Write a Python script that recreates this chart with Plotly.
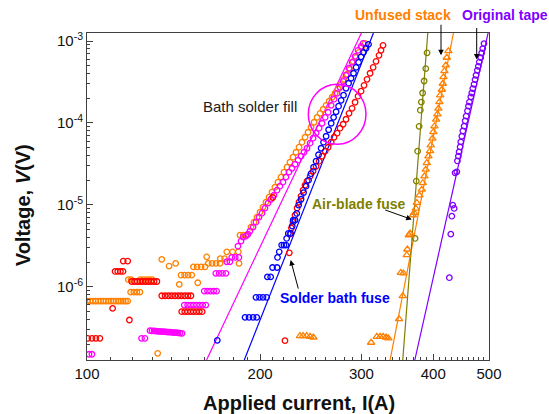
import plotly.graph_objects as go

# ---------------- data (current in A, voltage in V) ----------------
orange_I = [100.2, 101.3, 102.4, 103.5, 104.6, 105.7, 106.8, 107.9, 109.0, 110.1, 111.2, 112.3, 113.4, 114.5, 115.6, 116.7, 117.7,
            118.0, 119.3, 123.8, 125.3, 126.8, 128.3, 129.8,
            119.1, 120.6, 122.1, 123.6,
            132.7, 134.9, 138.9, 142.6, 144.7, 155.8, 161.5, 183.8,
            145.7, 147.8, 149.9, 152.1,
            153.1, 155.4, 157.9, 160.4,
            162.5, 165.0, 167.6, 170.3, 170.5, 173.5,
            175.0, 179.1, 183.3, 184.5, 187.0, 189.5,
            192.8, 195.1, 197.5, 199.9, 202.3, 204.7, 207.2, 209.7, 212.2, 214.8, 217.4, 220.0, 222.7, 225.4,
            228.1, 230.9, 233.7, 236.5, 239.4, 242.3, 245.2, 248.2, 251.2, 254.3, 257.4, 260.5, 263.6, 266.8,
            270.0, 273.3, 276.6, 279.9, 283.3, 286.7, 290.2, 293.7, 297.2, 300.8, 304.4]
orange_V = [6.69e-7] * 17 + [1.22e-6] * 7 + [8.6e-7] * 4 + \
           [1.54e-7, 2.16e-6, 1.79e-6, 1.93e-6, 1.07e-6, 1.12e-6, 2.32e-6, 1.93e-6] + \
           [1.39e-6] * 4 + [1.75e-6] * 4 + [1.93e-6] * 4 + [2.20e-6] * 2 + [2.67e-6] * 3 + [4.27e-6] * 3 + \
           [5.35e-6, 6.15e-6, 7.08e-6, 8.15e-6, 9.38e-6, 1.08e-5, 1.24e-5, 1.43e-5, 1.64e-5, 1.89e-5, 2.18e-5, 2.51e-5,
            2.88e-5, 3.32e-5, 3.82e-5, 4.39e-5, 5.06e-5, 5.82e-5, 6.69e-5, 7.70e-5, 8.86e-5, 1.02e-4, 1.17e-4, 1.31e-4,
            1.47e-4, 1.64e-4, 1.84e-4, 2.06e-4, 2.31e-4, 2.58e-4, 2.96e-4, 3.41e-4, 3.93e-4, 4.52e-4, 5.66e-4, 6.33e-4,
            7.28e-4, 8.38e-4, 9.38e-4]

magenta_I = [100.8, 102.0, 124.4, 126.1,
             128.7, 129.7, 130.8, 131.8, 132.9, 133.9, 135.0, 136.1, 137.2, 138.3, 139.4, 140.5, 141.7, 142.8, 143.9, 145.1, 146.3,
             147.6, 149.6, 151.4, 153.2, 155.1, 157.0, 158.9, 160.9,
             159.9, 162.0, 164.0, 166.1, 168.0,
             167.5, 169.7, 172.0, 174.4,
             175.0, 177.2, 178.5, 181.0, 183.7,
             183.0, 185.3, 186.8, 189.0, 190.5, 192.0, 194.4, 196.7, 199.1, 201.5, 203.9, 206.4, 208.8, 211.4, 214.0,
             216.5, 219.1, 221.8, 224.5, 227.2, 230.0, 232.8, 235.6, 238.4, 241.3, 244.3, 247.2, 250.2, 253.3, 256.3,
             259.5, 262.6, 265.8, 268.9, 272.2, 275.4, 278.8, 282.1, 285.5, 289.0, 292.5, 296.0, 299.6, 302.0]
magenta_V = [1.50e-7, 1.50e-7, 2.35e-7, 2.35e-7,
             2.91e-7, 2.90e-7, 2.89e-7, 2.87e-7, 2.86e-7, 2.85e-7, 2.84e-7, 2.83e-7, 2.81e-7, 2.80e-7, 2.79e-7, 2.77e-7,
             2.76e-7, 2.75e-7, 2.73e-7, 2.72e-7, 2.70e-7] + [5.98e-7] * 8 + [8.86e-7] * 5 + [1.46e-6] * 4 + \
            [2.02e-6] * 2 + [2.28e-6] * 3 + \
            [3.13e-6, 3.61e-6, 4.04e-6, 4.15e-6, 4.39e-6, 4.78e-6, 5.35e-6, 6.15e-6, 7.08e-6, 7.92e-6, 9.12e-6, 1.05e-5,
             1.17e-5, 1.31e-5, 1.51e-5, 1.69e-5, 1.89e-5, 2.18e-5, 2.51e-5, 2.80e-5, 3.13e-5, 3.51e-5, 3.93e-5, 4.39e-5,
             4.91e-5, 5.66e-5, 6.51e-5, 7.49e-5, 8.62e-5, 9.92e-5, 1.17e-4, 1.35e-4, 1.64e-4, 1.95e-4, 2.30e-4, 2.72e-4,
             3.22e-4, 3.82e-4, 4.65e-4, 5.50e-4, 6.51e-4, 7.70e-4, 8.62e-4, 9.37e-4]

red_I = [100.3, 102.0, 103.6, 105.3, 115.6, 117.7, 111.9, 113.1, 114.3, 115.5,
         119.6, 121.0, 122.3, 123.7, 125.0, 126.5, 127.9, 129.3, 130.8, 132.3,
         110.8, 118.5,
         134.9, 136.7, 138.5, 140.3, 142.2, 144.1, 145.9, 147.9, 149.8, 151.6,
         146.1, 147.9, 149.6, 151.4, 153.1, 155.0, 156.8, 158.6,
         220.9, 224.8, 210.4,
         225.4, 226.7, 228.1, 230.0, 231.9, 233.7, 235.6, 237.5, 239.4, 241.3, 244.3, 247.2, 250.2, 253.3, 256.3,
         259.5, 262.6, 265.8, 268.9, 272.2, 275.4, 278.8, 282.1, 285.5, 289.0, 292.5, 296.0, 299.6, 303.2, 306.8,
         310.6, 314.4, 318.1, 321.9, 324.5, 327.1]
red_V = [2.35e-7] * 4 + [2.06e-6] * 2 + [1.54e-6] * 4 + [1.16e-6] * 10 + [5.45e-7, 3.93e-7] + \
        [7.77e-7] * 10 + [4.96e-7] * 8 + [2.20e-7, 2.60e-6, 1.23e-5] + \
        [4.39e-6, 5.20e-6, 6.15e-6, 7.49e-6, 9.12e-6, 1.08e-5, 1.28e-5, 1.51e-5, 1.74e-5, 1.95e-5, 2.24e-5, 2.58e-5,
         2.96e-5, 3.41e-5, 3.93e-5, 4.52e-5, 5.05e-5, 5.82e-5, 6.69e-5, 7.49e-5, 8.62e-5, 9.64e-5, 1.11e-4, 1.31e-4,
         1.51e-4, 1.79e-4, 2.12e-4, 2.44e-4, 2.88e-4, 3.41e-4, 4.04e-4, 4.78e-4, 5.66e-4, 6.69e-4, 7.70e-4, 8.86e-4]

blue_I = [168.5, 188.3, 191.3, 194.4, 197.3, 196.7, 199.5, 202.3, 205.3, 205.9, 208.6, 210.2, 214.0, 214.4, 215.9,
          218.0, 220.0, 221.8, 222.4, 223.9, 226.0, 227.4, 228.3, 230.0, 231.6,
          233.3, 235.6, 238.0, 240.4, 242.8, 245.2, 247.7, 250.2, 252.7, 255.3, 257.8, 260.5, 263.1, 265.8, 268.4,
          271.1, 273.8, 276.6, 279.3, 282.1, 285.0, 287.8, 290.7, 293.7, 296.6, 299.6, 302.6, 305.6, 308.7]
blue_V = [2.22e-7] + [4.23e-7] * 4 + [7.43e-7] * 4 + [1.32e-6] * 2 + [1.72e-6] * 2 + [2.28e-6, 2.67e-6] + \
         [3.23e-6] * 3 + [3.89e-6] + [4.48e-6] * 2 + [5.50e-6] + [6.51e-6] * 2 + [7.86e-6] + \
         [9.92e-6, 1.17e-5, 1.41e-5, 1.69e-5, 2.00e-5, 2.40e-5, 2.88e-5, 3.41e-5, 4.09e-5, 4.91e-5, 5.82e-5, 6.88e-5,
          8.26e-5, 9.92e-5, 1.17e-4, 1.37e-4, 1.60e-4, 1.89e-4, 2.18e-4, 2.65e-4, 3.05e-4, 3.51e-4, 4.04e-4, 4.78e-4,
          5.50e-4, 6.42e-4, 7.28e-4, 8.15e-4, 9.12e-4]

olive_I = [390.2, 388.2, 385.6, 383.3, 381.4, 379.8, 378.0, 375.7, 373.7, 371.9]
olive_V = [7.18e-4, 4.61e-4, 3.25e-4, 2.32e-4, 1.80e-4, 1.43e-4, 9.1e-5, 4.52e-5, 1.95e-5, 3.89e-6]

tri_I = [424.9, 422.3, 420.6, 418.3, 416.7, 415.6, 414.0, 411.2, 410.0, 408.3, 406.7, 404.6, 401.8, 400.2, 398.6,
         396.0, 394.9, 392.3, 389.8, 388.2, 386.1, 383.6, 382.1, 378.4, 374.5, 373.1, 370.5, 368.6, 364.6, 362.8,
         360.6, 359.7, 351.2, 354.9, 354.0, 348.8, 311.9, 319.1, 323.3, 327.2, 331.1, 334.2,
         234.6, 237.5, 240.9, 244.3, 247.5]
tri_V = [7.55e-4, 6.27e-4, 5.05e-4, 4.31e-4, 3.64e-4, 3.02e-4, 2.55e-4, 2.18e-4, 1.80e-4, 1.50e-4, 1.28e-4, 1.10e-4,
         9.12e-5, 7.77e-5, 6.45e-5, 5.35e-5, 4.55e-5, 3.93e-5, 3.25e-5, 2.70e-5, 2.24e-5, 1.85e-5, 1.54e-5, 1.31e-5,
         1.06e-5, 9.04e-6, 7.99e-6, 7.49e-6, 4.48e-6, 4.27e-6, 2.86e-6, 2.44e-6, 1.48e-6, 1.46e-6, 7.70e-7, 4.04e-7,
         2.08e-7, 2.46e-7, 2.46e-7, 2.46e-7, 2.41e-7, 2.35e-7,
         2.51e-7, 2.51e-7, 2.51e-7, 2.46e-7, 2.41e-7]

purple_I = [440.6, 442.3, 443.6, 445.4, 446.6, 448.5, 450.3, 452.6, 454.5, 456.3, 458.7, 460.5, 462.3, 464.9, 466.7,
            468.6, 470.9, 472.9, 474.7, 477.2, 479.1, 481.0, 483.7, 485.6, 487.6, 490.1,
            436.5, 439.5, 432.5, 434.9, 430.9, 429.1, 426.6]
purple_V = [3.44e-5, 3.93e-5, 4.43e-5, 5.10e-5, 5.87e-5, 6.88e-5, 7.99e-5, 9.12e-5, 1.06e-4, 1.21e-4, 1.40e-4, 1.60e-4,
            1.80e-4, 2.08e-4, 2.32e-4, 2.63e-4, 2.96e-4, 3.38e-4, 3.82e-4, 4.39e-4, 4.91e-4, 5.54e-4, 6.27e-4, 7.14e-4,
            8.08e-4, 9.30e-4,
            2.46e-5, 2.53e-5, 9.92e-6, 9.04e-6, 7.28e-6, 4.39e-6, 1.29e-6]

# fitted power-law lines (end points)
fit_magenta_I = [161.4, 300.0]
fit_blue_I = [187.7, 314.8]
fit_orange_I = [336.5, 433.6]
fit_olive_I = [354.0, 391.3]
fit_purple_I = [371.5, 498.2]
fit_V = [1.276e-7, 1.253e-3]

x_major = [100, 200, 300, 400, 500]
x_minor = [v for v in range(110, 500, 10) if v not in (200, 300, 400)]
y_major = [1e-6, 1e-5, 1e-4, 1e-3]
y_major_text = ["10<sup>-6</sup>", "10<sup>-5</sup>", "10<sup>-4</sup>", "10<sup>-3</sup>"]
y_minor = [m * 10.0 ** e for e in (-7, -6, -5, -4) for m in range(2, 10)]

ORANGE = "#FF8000"
MAGENTA = "#FF00FF"
RED = "#FF0000"
BLUE = "#0000FF"
OLIVE = "#808000"
PURPLE = "#8000FF"

FONT = "Liberation Sans, Arial, sans-serif"

fig = go.Figure()

for xs, col in [(fit_magenta_I, MAGENTA), (fit_blue_I, BLUE), (fit_orange_I, ORANGE),
                (fit_olive_I, OLIVE), (fit_purple_I, PURPLE)]:
    fig.add_trace(go.Scatter(x=xs, y=fit_V, mode="lines", line=dict(color=col, width=1.2),
                             showlegend=False, hoverinfo="skip"))

def circles(x, y, col):
    fig.add_trace(go.Scatter(x=x, y=y, mode="markers", showlegend=False,
                             marker=dict(symbol="circle-open", size=5.5, color=col, line=dict(width=1.3, color=col))))

circles(orange_I, orange_V, ORANGE)
circles(magenta_I, magenta_V, MAGENTA)
circles(red_I, red_V, RED)
circles(blue_I, blue_V, BLUE)
circles(olive_I, olive_V, OLIVE)
fig.add_trace(go.Scatter(x=tri_I, y=tri_V, mode="markers", showlegend=False,
                         marker=dict(symbol="triangle-up-open", size=6.5, color=ORANGE,
                                     line=dict(width=1.3, color=ORANGE))))
circles(purple_I, purple_V, PURPLE)

axis_common = dict(
    showline=True, linecolor="#404040", linewidth=1, mirror=True, ticks="inside",
    tickcolor="#404040", tickwidth=1, showgrid=False, zeroline=False,
    tickfont=dict(family=FONT, size=15, color="#111111"),
)

fig.update_xaxes(type="log", range=[2, 2.69897], tickmode="array", tickvals=x_major,
                 ticktext=[str(v) for v in x_major], ticklen=6,
                 minor=dict(tickmode="array", tickvals=x_minor, ticks="inside", ticklen=3.5,
                            tickcolor="#404040", showgrid=False),
                 **axis_common)
fig.update_yaxes(type="log", range=[-6.894, -2.902], tickmode="array", tickvals=y_major,
                 ticktext=y_major_text, ticklen=6,
                 minor=dict(tickmode="array", tickvals=y_minor, ticks="inside", ticklen=3,
                            tickcolor="#404040", showgrid=False),
                 **axis_common)

annotations = [
    dict(x=0.527, y=-0.131, text="<b>Applied current, I(A)</b>", font=dict(size=20)),
    dict(x=-0.159, y=0.4736, text="<b>Voltage, <i>V</i>(V)</b>", font=dict(size=20), textangle=-90),
    dict(x=0.4062, y=0.776, text="Bath solder fill", font=dict(size=15, color="#1a1a1a")),
    dict(x=0.7873, y=1.054, text="<b>Unfused stack</b>", font=dict(size=14, color=ORANGE)),
    dict(x=1.0398, y=1.054, text="<b>Original tape</b>", font=dict(size=14, color=PURPLE)),
    dict(x=0.6762, y=0.4766, text="<b>Air-blade fuse</b>", font=dict(size=14, color=OLIVE)),
    dict(x=0.6161, y=0.1885, text="<b>Solder bath fuse</b>", font=dict(size=14, color=BLUE)),
]
for a in annotations:
    f = dict(family=FONT, color="#111111")
    f.update(a.pop("font"))
    fig.add_annotation(xref="paper", yref="paper", showarrow=False, xanchor="center", yanchor="middle",
                       font=f, **a)

arrows = [(0.8806, 0.9319, 0, -32), (0.9694, 0.9188, 0, -33),
          (0.8077, 0.4299, -28, -10), (0.5067, 0.3055, 8, 30)]
for hx, hy, ax, ay in arrows:
    fig.add_annotation(xref="paper", yref="paper", x=hx, y=hy, ax=ax, ay=ay, text="",
                       showarrow=True, arrowhead=2, arrowsize=1.1, arrowwidth=1, arrowcolor="#000000")

fig.add_shape(type="circle", xref="paper", yref="paper", x0=0.5505, x1=0.694, y0=0.66, y1=0.843,
              line=dict(color=MAGENTA, width=1.5))

fig.update_layout(width=549, height=414, margin=dict(l=87, r=60, t=33, b=54),
                  paper_bgcolor="white", plot_bgcolor="white", showlegend=False,
                  font=dict(family=FONT), hovermode=False)

# remove the default 8 px page margin so the 549x414 figure fills the window exactly
fig.write_html("out.html", config={"displayModeBar": False, "staticPlot": True},
               post_script="document.body.style.margin='0';document.body.style.overflow='hidden';")
